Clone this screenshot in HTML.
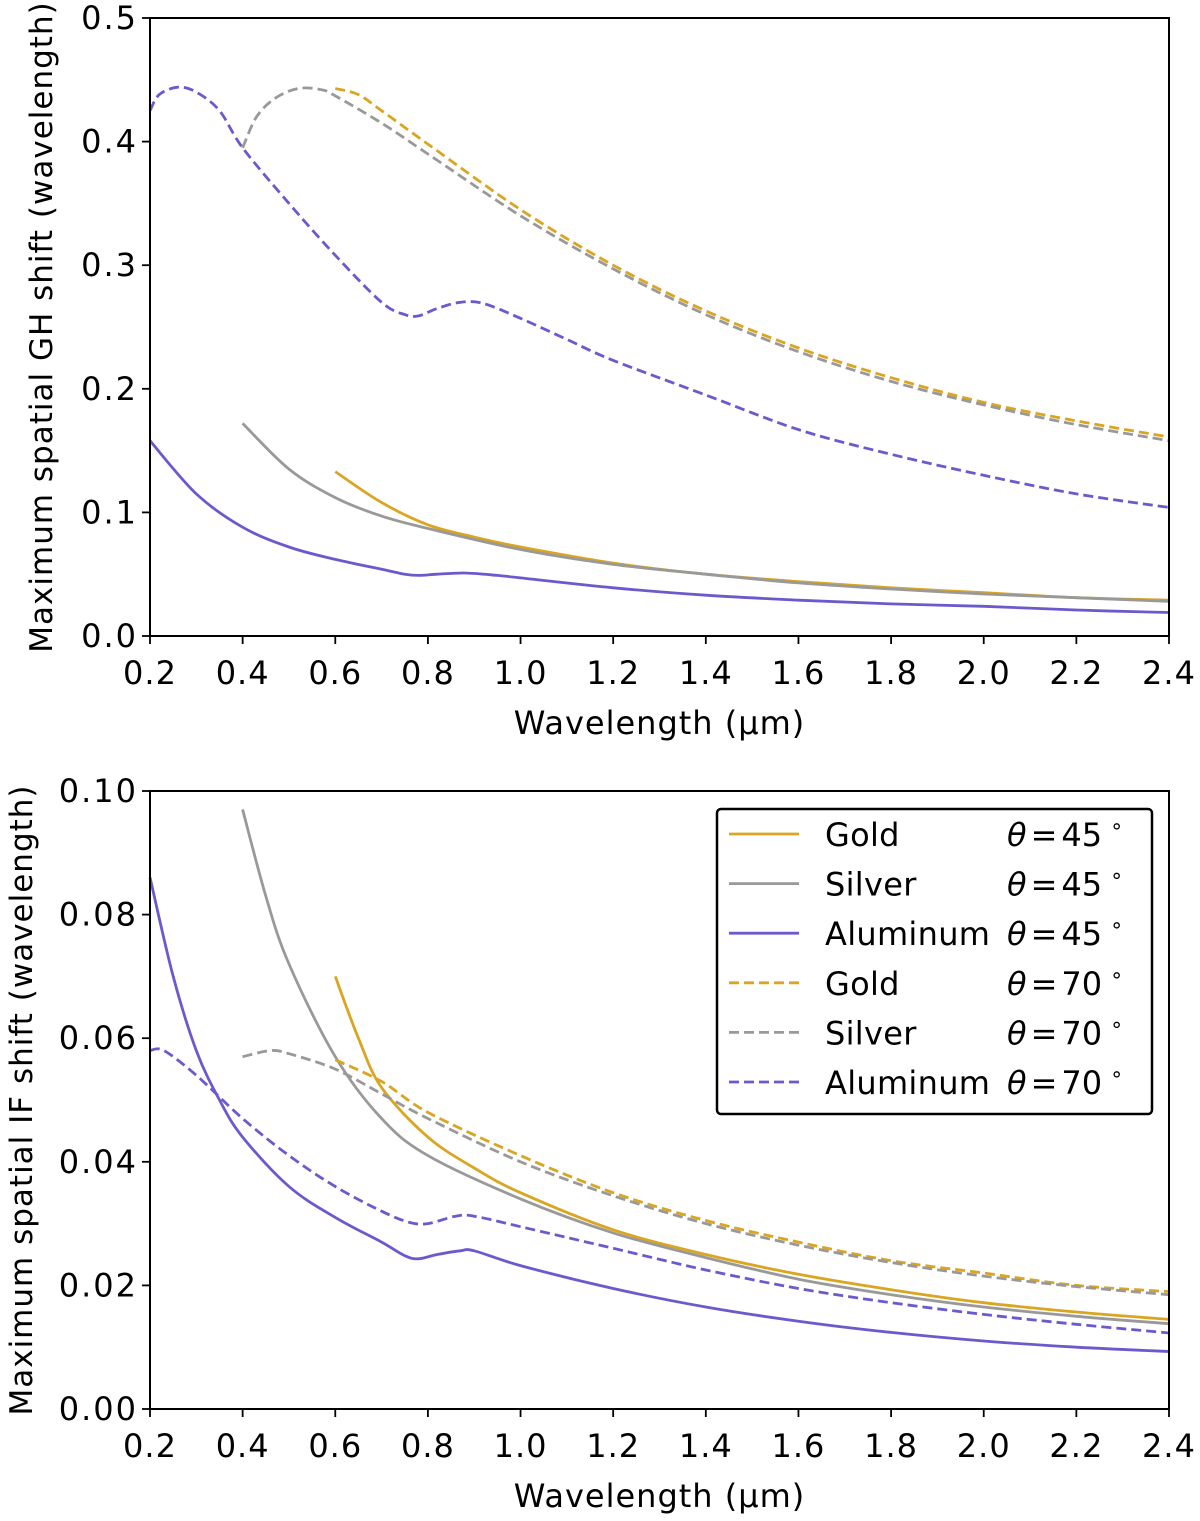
<!DOCTYPE html>
<html><head><meta charset="utf-8">
<style>
html,body{margin:0;padding:0;background:#fff;}
svg{display:block;font-family:"DejaVu Sans","Liberation Sans",sans-serif;}
</style></head>
<body>
<svg id="chart" width="1200" height="1521" viewBox="0 0 1200 1521" xmlns="http://www.w3.org/2000/svg"></svg>
<script>
const xTicks=[0.2,0.4,0.6,0.8,1.0,1.2,1.4,1.6,1.8,2.0,2.2,2.4];
const topYTicks=[0.0,0.1,0.2,0.3,0.4,0.5];
const botYTicks=[0.00,0.02,0.04,0.06,0.08,0.10];
// top panel (GH shift)
const ghGold45X=[0.6,0.7,0.8,0.9,1.0,1.2,1.4,1.6,1.8,2.0,2.2,2.4];
const ghGold45Y=[0.133,0.108,0.09,0.08,0.072,0.059,0.05,0.044,0.039,0.035,0.031,0.029];
const ghSilver45X=[0.4,0.5,0.6,0.7,0.8,1.0,1.2,1.4,1.6,1.8,2.0,2.2,2.4];
const ghSilver45Y=[0.172,0.135,0.112,0.097,0.087,0.07,0.058,0.05,0.043,0.038,0.034,0.031,0.028];
const ghAl45X=[0.2,0.3,0.4,0.5,0.6,0.7,0.75,0.78,0.82,0.88,0.95,1.0,1.2,1.4,1.6,1.8,2.0,2.2,2.4];
const ghAl45Y=[0.158,0.115,0.088,0.072,0.062,0.054,0.05,0.049,0.05,0.051,0.049,0.047,0.039,0.033,0.029,0.026,0.024,0.021,0.019];
const ghGold70X=[0.6,0.65,0.7,0.8,1.0,1.2,1.4,1.6,1.8,2.0,2.2,2.4];
const ghGold70Y=[0.443,0.438,0.425,0.398,0.345,0.3,0.263,0.233,0.209,0.189,0.174,0.161];
const ghSilver70X=[0.4,0.43,0.47,0.52,0.57,0.6,0.7,0.8,1.0,1.2,1.4,1.6,1.8,2.0,2.2,2.4];
const ghSilver70Y=[0.395,0.42,0.435,0.443,0.442,0.437,0.415,0.39,0.34,0.297,0.26,0.23,0.206,0.187,0.171,0.158];
const ghAl70X=[0.2,0.22,0.26,0.3,0.35,0.4,0.5,0.6,0.7,0.75,0.78,0.82,0.87,0.92,1.0,1.1,1.2,1.4,1.6,1.8,2.0,2.2,2.4];
const ghAl70Y=[0.425,0.438,0.444,0.44,0.425,0.395,0.35,0.308,0.27,0.26,0.259,0.265,0.27,0.269,0.257,0.24,0.223,0.195,0.167,0.147,0.13,0.115,0.104];
// bottom panel (IF shift)
const ifGold45X=[0.6,0.65,0.7,0.8,0.9,1.0,1.2,1.4,1.6,1.8,2.0,2.2,2.4];
const ifGold45Y=[0.07,0.06,0.052,0.044,0.039,0.035,0.029,0.025,0.0218,0.0193,0.0172,0.0157,0.0145];
const ifSilver45X=[0.4,0.45,0.5,0.6,0.7,0.8,1.0,1.2,1.4,1.6,1.8,2.0,2.2,2.4];
const ifSilver45Y=[0.097,0.083,0.072,0.057,0.047,0.041,0.034,0.0285,0.0245,0.021,0.0185,0.0165,0.015,0.0138];
const ifAl45X=[0.2,0.25,0.3,0.35,0.4,0.5,0.6,0.7,0.75,0.78,0.82,0.87,0.9,1.0,1.2,1.4,1.6,1.8,2.0,2.2,2.4];
const ifAl45Y=[0.086,0.07,0.058,0.05,0.044,0.036,0.031,0.027,0.0248,0.0243,0.025,0.0256,0.0256,0.0232,0.0195,0.0165,0.0142,0.0124,0.011,0.01,0.0093];
const ifGold70X=[0.6,0.7,0.8,1.0,1.2,1.4,1.6,1.8,2.0,2.2,2.4];
const ifGold70Y=[0.0565,0.053,0.048,0.041,0.035,0.0305,0.027,0.024,0.022,0.02,0.019];
const ifSilver70X=[0.4,0.46,0.5,0.6,0.7,0.8,1.0,1.2,1.4,1.6,1.8,2.0,2.2,2.4];
const ifSilver70Y=[0.057,0.058,0.0575,0.055,0.051,0.047,0.04,0.0345,0.03,0.0265,0.0237,0.0215,0.0198,0.0185];
const ifAl70X=[0.2,0.23,0.3,0.4,0.5,0.6,0.7,0.76,0.8,0.86,0.9,1.0,1.2,1.4,1.6,1.8,2.0,2.2,2.4];
const ifAl70Y=[0.058,0.058,0.054,0.047,0.041,0.036,0.032,0.0302,0.03,0.0312,0.0312,0.0295,0.026,0.0225,0.0195,0.0172,0.0153,0.0137,0.0123];
const legendMaterials=["Gold","Silver","Aluminum","Gold","Silver","Aluminum"];
const legendAngles=["45","45","45","70","70","70"];

const GOLD="#DAA520",SILVER="#999999",AL="#6A5ACD";
const NS="http://www.w3.org/2000/svg";
const svg=document.getElementById('chart');
function el(tag,attrs,parent){const e=document.createElementNS(NS,tag);for(const k in attrs)e.setAttribute(k,attrs[k]);(parent||svg).appendChild(e);return e;}
const X0=150,X1=1169;
function xs(v){return X0+(v-0.2)/(2.4-0.2)*(X1-X0);}
function smooth(P){
  let d='M'+P[0][0].toFixed(1)+','+P[0][1].toFixed(1);
  for(let i=0;i<P.length-1;i++){
    const p0=P[Math.max(0,i-1)],p1=P[i],p2=P[i+1],p3=P[Math.min(P.length-1,i+2)];
    const c1=[p1[0]+(p2[0]-p0[0])/6,p1[1]+(p2[1]-p0[1])/6];
    const c2=[p2[0]-(p3[0]-p1[0])/6,p2[1]-(p3[1]-p1[1])/6];
    d+=` C${c1[0].toFixed(1)},${c1[1].toFixed(1)} ${c2[0].toFixed(1)},${c2[1].toFixed(1)} ${p2[0].toFixed(1)},${p2[1].toFixed(1)}`;
  }
  return d;
}

function panel(name,top,bot,ymax,yTicks,yFmt,ylabel,labelX,series){
  const g=el('g',{});
  
  
  const ys=v=>bot-(v/ymax)*(bot-top);
  series.forEach(s=>{
    const P=s.x.map((v,i)=>[xs(v),ys(s.y[i])]);
    const p=el('path',{d:smooth(P),fill:'none',stroke:s.c,'stroke-width':2.8,'stroke-dasharray':s.d?'10,5':'none','stroke-linejoin':'round'},g);
    
    
  });
  const f=el('rect',{x:X0,y:top,width:X1-X0,height:bot-top,fill:'none',stroke:'#000','stroke-width':2},g);
  
  
  xTicks.forEach(t=>{
    const x=xs(t);
    el('line',{x1:x,y1:bot,x2:x,y2:bot+8,stroke:'#000','stroke-width':1.8},g);
    const tx=el('text',{x:x,y:bot+48,'text-anchor':'middle','font-size':32,'letter-spacing':1},g);
    tx.textContent=t.toFixed(1);
    
    
  });
  yTicks.forEach(t=>{
    const y=ys(t);
    el('line',{x1:X0-8,y1:y,x2:X0,y2:y,stroke:'#000','stroke-width':1.8},g);
    const tx=el('text',{x:X0-12,y:y+11,'text-anchor':'end','font-size':32,'letter-spacing':2},g);
    tx.textContent=t.toFixed(yFmt);
    
    
  });
  const xl=el('text',{x:(X0+X1)/2,y:bot+98,'text-anchor':'middle','font-size':32,'letter-spacing':1},g);
  xl.textContent='Wavelength (μm)';
  
  
  const cy=(top+bot)/2;
  const yl=el('text',{x:0,y:0,'text-anchor':'middle','font-size':31,'letter-spacing':1,transform:`translate(${labelX},${cy}) rotate(-90)`},g);
  yl.textContent=ylabel;
  
  
}
panel('gh-panel',18,636,0.5,topYTicks,1,'Maximum spatial GH shift (wavelength)',52,[
  {n:'gold-45-line',x:ghGold45X,y:ghGold45Y,c:GOLD},
  {n:'silver-45-line',x:ghSilver45X,y:ghSilver45Y,c:SILVER},
  {n:'aluminum-45-line',x:ghAl45X,y:ghAl45Y,c:AL},
  {n:'gold-70-line',x:ghGold70X,y:ghGold70Y,c:GOLD,d:1},
  {n:'silver-70-line',x:ghSilver70X,y:ghSilver70Y,c:SILVER,d:1},
  {n:'aluminum-70-line',x:ghAl70X,y:ghAl70Y,c:AL,d:1}]);
panel('if-panel',791,1409,0.10,botYTicks,2,'Maximum spatial IF shift (wavelength)',32,[
  {n:'gold-45-line',x:ifGold45X,y:ifGold45Y,c:GOLD},
  {n:'silver-45-line',x:ifSilver45X,y:ifSilver45Y,c:SILVER},
  {n:'aluminum-45-line',x:ifAl45X,y:ifAl45Y,c:AL},
  {n:'gold-70-line',x:ifGold70X,y:ifGold70Y,c:GOLD,d:1},
  {n:'silver-70-line',x:ifSilver70X,y:ifSilver70Y,c:SILVER,d:1},
  {n:'aluminum-70-line',x:ifAl70X,y:ifAl70Y,c:AL,d:1}]);

// legend
const lg=el('g',{});


el('rect',{x:717,y:809,width:435,height:305,rx:4,fill:'#fff',stroke:'#000','stroke-width':2.5},lg);
const cols=[GOLD,SILVER,AL,GOLD,SILVER,AL];
legendMaterials.forEach((m,i)=>{
  const y=834+i*49.6;
  const e=el('g',{},lg);
  
  
  el('line',{x1:729,y1:y,x2:799,y2:y,stroke:cols[i],'stroke-width':2.8,'stroke-dasharray':i>=3?'10,5':'none'},e);
  const t=el('text',{x:825,y:y+12,'font-size':32,'letter-spacing':0.3},e);
  t.textContent=m;
  const a=el('text',{x:1007,y:y+12,'font-size':32},e);
  a.innerHTML='<tspan font-style="italic">θ</tspan><tspan dx="4">=</tspan><tspan dx="4">'+legendAngles[i]+'</tspan><tspan dx="8" dy="-13" font-size="21">∘</tspan>';
});
</script>
</body></html>
